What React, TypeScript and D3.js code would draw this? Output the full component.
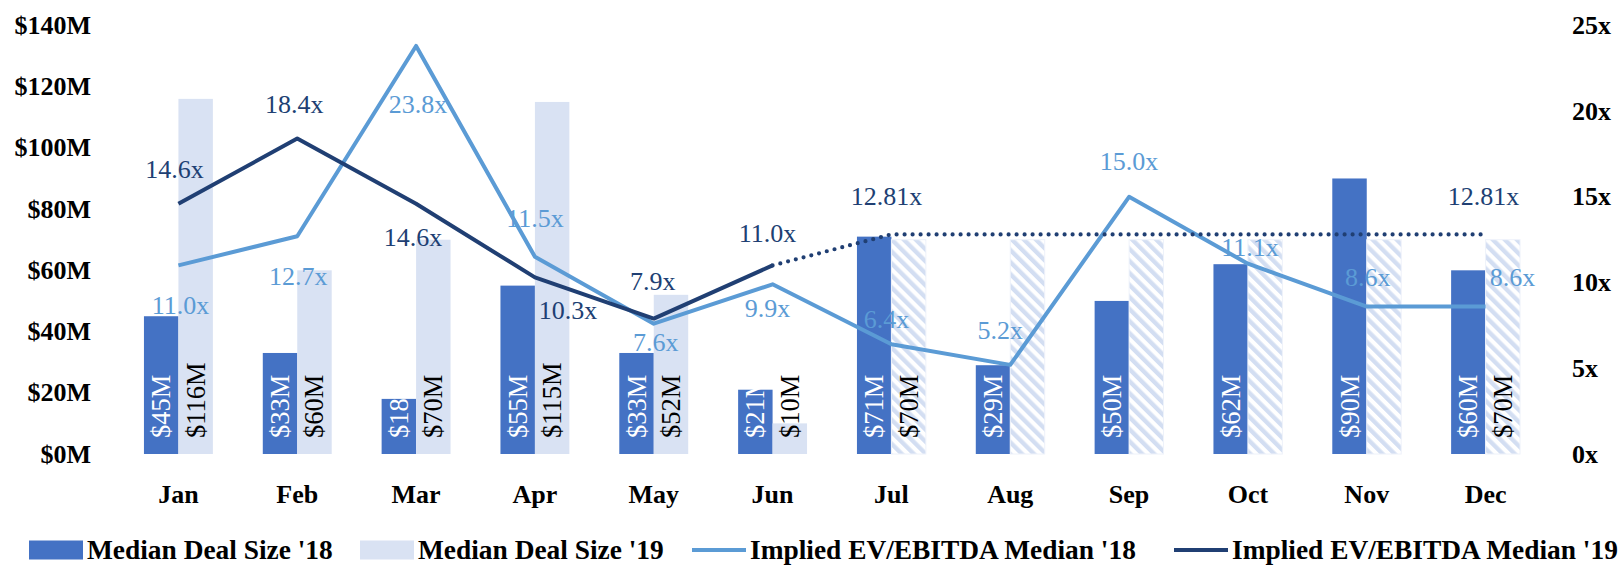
import React from "react";
import * as d3 from "d3";

const months = ["Jan", "Feb", "Mar", "Apr", "May", "Jun", "Jul", "Aug", "Sep", "Oct", "Nov", "Dec"];
const deal18 = [45, 33, 18, 55, 33, 21, 71, 29, 50, 62, 90, 60];
const deal19 = [116, 60, 70, 115, 52, 10, 70, 70, 70, 70, 70, 70];
const deal19Projected = [false, false, false, false, false, false, true, true, true, true, true, true];
const deal19ShowLabel = [true, true, true, true, true, true, true, false, false, false, false, true];
const ev18 = [11.0, 12.7, 23.8, 11.5, 7.6, 9.9, 6.4, 5.2, 15.0, 11.1, 8.6, 8.6];
const ev19 = [14.6, 18.4, 14.6, 10.3, 7.9, 11.0, 12.81, 12.81, 12.81, 12.81, 12.81, 12.81];
const ev19ShowLabel = [true, true, true, true, true, true, true, false, false, false, false, true];
const leftTicks = [0, 20, 40, 60, 80, 100, 120, 140];
const rightTicks = [0, 5, 10, 15, 20, 25];
const legendLabels = ["Median Deal Size '18", "Median Deal Size '19", "Implied EV/EBITDA Median '18", "Implied EV/EBITDA Median '19"];

// layout: label offsets [dx, dy] relative to each point
const ev18Offsets: [number, number][] = [
  [2, 40], [1, 40], [2, 59], [0, -38], [2, 19], [-5, 24], [-5, -25], [-10, -34], [0, -35], [2, -16], [1, -29], [27, -29],
];
const ev19Offsets: [number, number][] = [
  [-4, -34], [-3, -34], [-3, 34], [33, 33], [-1, -37], [-5, -32], [-5, -38], [0, 0], [0, 0], [0, 0], [0, 0], [-2, -38],
];

const W = 1619;
const H = 567;
const FONT = "'Liberation Serif', 'Times New Roman', serif";
const C18 = "#4472C4";
const C19 = "#D9E2F3";
const L18 = "#5B9BD5";
const L19 = "#203F73";

export default function App() {
  const x = d3.scaleBand<string>().domain(months).range([119, 1545]).padding(0);
  const step = x.step();
  const bw = step * 0.29;
  const yL = d3.scaleLinear().domain([0, 140]).range([454, 25.4]);
  const yR = d3.scaleLinear().domain([0, 25]).range([454, 25.4]);
  const cx = (m: string) => (x(m) as number) + step / 2;

  const line = d3.line<[number, number]>().x((d) => d[0]).y((d) => d[1]);
  const pts18: [number, number][] = months.map((m, i) => [cx(m), yR(ev18[i])]);
  const pts19: [number, number][] = months.map((m, i) => [cx(m), yR(ev19[i])]);
  const solid19 = pts19.filter((_, i) => !deal19Projected[i]);
  const lastActual = solid19.length - 1;
  const dotted19 = pts19.slice(lastActual);

  const legendX = [29, 360, 692, 1174];
  const legendY = 550;

  return (
    <svg width={W} height={H} style={{ position: "absolute", left: 0, top: 0, background: "#fff" }} fontFamily={FONT}>
      <defs>
        <pattern id="hatch" patternUnits="userSpaceOnUse" width={8.5} height={8.5} patternTransform="rotate(-45)">
          <rect x={0} y={0} width={8.5} height={8.5} fill="#ffffff" />
          <rect x={0} y={0} width={4.3} height={8.5} fill="#D3DEF2" />
        </pattern>
      </defs>

      {/* left axis */}
      {leftTicks.map((t) => (
        <text key={"l" + t} x={91} y={yL(t)} textAnchor="end" dominantBaseline="central" fontWeight="bold" fontSize={26} fill="#000">
          {"$" + t + "M"}
        </text>
      ))}
      {/* right axis */}
      {rightTicks.map((t) => (
        <text key={"r" + t} x={1572} y={yR(t)} textAnchor="start" dominantBaseline="central" fontWeight="bold" fontSize={26} fill="#000">
          {t + "x"}
        </text>
      ))}
      {/* x axis */}
      {months.map((m) => (
        <text key={"x" + m} x={cx(m)} y={494} textAnchor="middle" dominantBaseline="central" fontWeight="bold" fontSize={26} fill="#000">
          {m}
        </text>
      ))}

      {/* bars */}
      {months.map((m, i) => {
        const c = cx(m);
        return (
          <g key={"b" + m}>
            <rect x={c - bw} y={yL(deal18[i])} width={bw} height={yL(0) - yL(deal18[i])} fill={C18} />
            <rect
              x={c}
              y={yL(deal19[i])}
              width={bw}
              height={yL(0) - yL(deal19[i])}
              fill={deal19Projected[i] ? "url(#hatch)" : C19}
              stroke={deal19Projected[i] ? "#EEF2FA" : "none"}
              strokeWidth={1}
            />
          </g>
        );
      })}
      {/* bar labels */}
      {months.map((m, i) => {
        const c = cx(m);
        return (
          <g key={"bl" + m}>
            <text
              transform={`translate(${c - bw / 2},${438}) rotate(-90)`}
              textAnchor="start"
              dominantBaseline="central"
              fontSize={26.5}
              fill="#fff"
            >
              {"$" + deal18[i] + "M"}
            </text>
            {deal19ShowLabel[i] && (
              <text
                transform={`translate(${c + bw / 2},${438}) rotate(-90)`}
                textAnchor="start"
                dominantBaseline="central"
                fontSize={26.5}
                fill="#000"
              >
                {"$" + deal19[i] + "M"}
              </text>
            )}
          </g>
        );
      })}

      {/* lines */}
      <path d={line(pts18) || ""} fill="none" stroke={L18} strokeWidth={4} strokeLinejoin="round" />
      <path d={line(solid19) || ""} fill="none" stroke={L19} strokeWidth={4} strokeLinejoin="round" />
      <path
        d={line(dotted19) || ""}
        fill="none"
        stroke={L19}
        strokeWidth={4.2}
        strokeDasharray="0 8"
        strokeLinecap="round"
      />

      {/* line labels */}
      {months.map((m, i) => (
        <text
          key={"e18" + m}
          x={cx(m) + ev18Offsets[i][0]}
          y={yR(ev18[i]) + ev18Offsets[i][1]}
          textAnchor="middle"
          dominantBaseline="central"
          fontSize={26}
          fill={L18}
        >
          {ev18[i].toFixed(1) + "x"}
        </text>
      ))}
      {months.map((m, i) =>
        ev19ShowLabel[i] ? (
          <text
            key={"e19" + m}
            x={cx(m) + ev19Offsets[i][0]}
            y={yR(ev19[i]) + ev19Offsets[i][1]}
            textAnchor="middle"
            dominantBaseline="central"
            fontSize={26}
            fill={L19}
          >
            {(deal19Projected[i] ? ev19[i].toFixed(2) : ev19[i].toFixed(1)) + "x"}
          </text>
        ) : null
      )}

      {/* legend */}
      {legendLabels.map((lab, i) => {
        const lx = legendX[i];
        return (
          <g key={"lg" + i}>
            {i < 2 ? (
              <rect x={lx} y={legendY - 9.5} width={54} height={19} fill={i === 0 ? C18 : C19} />
            ) : (
              <line x1={lx} x2={lx + 54} y1={legendY} y2={legendY} stroke={i === 2 ? L18 : L19} strokeWidth={4} />
            )}
            <text x={lx + 58} y={legendY} dominantBaseline="central" fontWeight="bold" fontSize={27.4} fill="#000">
              {lab}
            </text>
          </g>
        );
      })}
    </svg>
  );
}
